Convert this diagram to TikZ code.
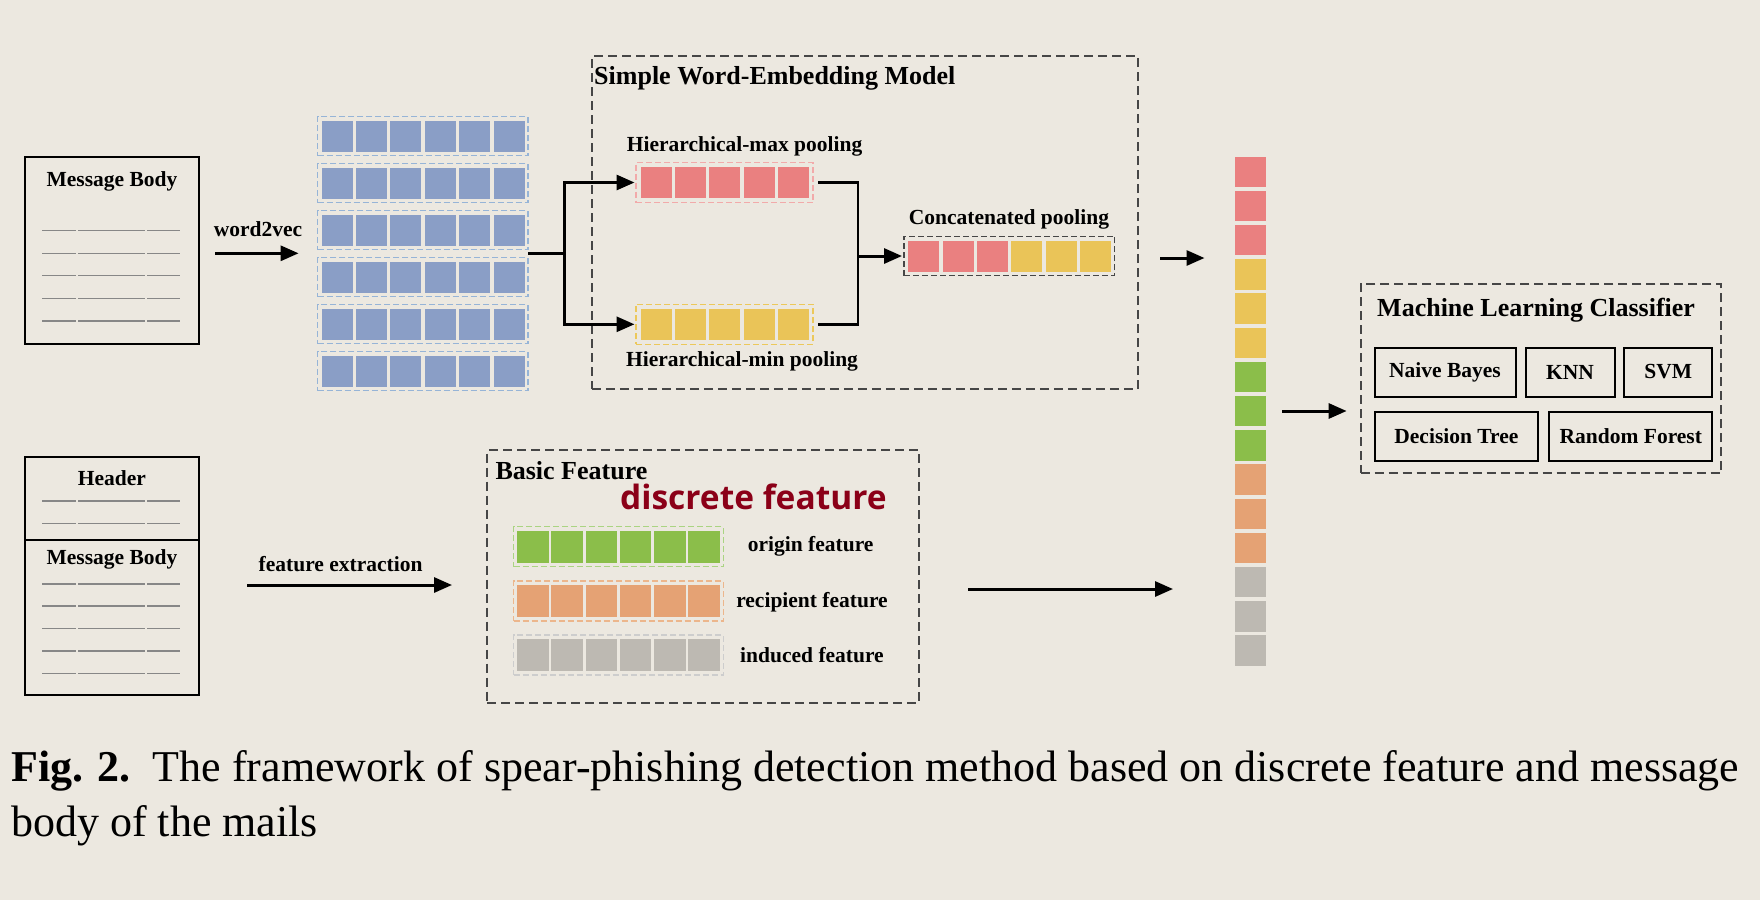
\documentclass[tikz,border=0pt]{standalone}
\usepackage{fontspec}
\setmainfont{Liberation Serif}
\newfontfamily\dfont{Open Sans}
\usetikzlibrary{arrows.meta}
\definecolor{bg}{RGB}{236,232,224}
\definecolor{dashgray}{RGB}{70,70,70}
\definecolor{linegray}{RGB}{135,135,135}
\definecolor{blueSq}{RGB}{138,158,198}
\definecolor{blueFr}{RGB}{150,180,215}
\definecolor{redSq}{RGB}{234,128,128}
\definecolor{redFr}{RGB}{242,170,170}
\definecolor{yelSq}{RGB}{234,196,88}
\definecolor{yelFr}{RGB}{236,200,90}
\definecolor{grnSq}{RGB}{139,190,74}
\definecolor{grnFr}{RGB}{170,212,130}
\definecolor{orgSq}{RGB}{229,162,116}
\definecolor{orgFr}{RGB}{236,182,140}
\definecolor{graySq}{RGB}{189,185,178}
\definecolor{grayFr}{RGB}{205,205,205}
\definecolor{discRed}{RGB}{139,0,24}
\tikzset{
  docbox/.style={draw=black, line width=2.5pt, inner sep=0pt, outer sep=0pt},
  dbox/.style={draw=dashgray, line width=2pt, dash pattern=on 9pt off 5pt, inner sep=0pt, outer sep=0pt},
  rowframe/.style={line width=1.2pt, dash pattern=on 6pt off 3pt, inner sep=0pt, outer sep=0pt},
  sq/.style={minimum width=31pt, minimum height=31pt, inner sep=0pt, outer sep=0pt},
  lbl/.style={font=\fontsize{21.5}{24}\selectfont\bfseries, inner sep=0pt},
  ttl/.style={font=\fontsize{26}{30}\selectfont\bfseries, inner sep=0pt, anchor=base west},
  arr/.style={line width=3pt, -{Triangle[length=18pt,width=15pt]}},
  conn/.style={line width=2.5pt},
  tline/.style={draw=linegray, line width=1.5pt},
  clf/.style={draw=black, line width=2pt, minimum height=49pt, inner sep=0pt, outer sep=0pt, lbl},
  invis/.style={inner sep=0pt, outer sep=0pt}
}
\newcommand{\doclines}[1]{%
  \draw[tline] (42,#1) -- (76,#1);
  \draw[tline] (78,#1) -- (145,#1);
  \draw[tline] (147,#1) -- (180,#1);}
\begin{document}
\begin{tikzpicture}[x=1pt,y=-1pt]
\path[fill=bg] (0,0) rectangle (1760,900);
\useasboundingbox (0,0) rectangle (1760,900);

% ---------- top message body ----------
\node[docbox, minimum width=174pt, minimum height=187pt] (msgA) at (112,250.5) {};
\node[lbl] (msgAt) at (112,181) {Message Body};
\foreach \yy in {230.7,253.3,275.7,298.3,321} {\doclines{\yy}}

% ---------- embedding grid ----------
\node[invis, minimum width=210.4pt, minimum height=287pt] (emb) at (422.8,259.5) {};
\foreach \i in {0,...,5} {
  \node[rowframe, draw=blueFr, minimum width=210.4pt, minimum height=39pt] (er\i) at (422.8,136.2+47*\i) {};
  \foreach \j in {0,...,5} {
    \node[sq, fill=blueSq] (e\i\j) at (337+34.45*\j,136.2+47*\i) {};
  }
}
\node[lbl] (w2v) at (258,229) {word2vec};
\coordinate (w2vs) at (199,253.3);
\draw[arr, shorten <=16pt, shorten >=19pt] (w2vs) -- (emb.west |- w2vs);

% ---------- SWEM ----------
\node[dbox, minimum width=545.7pt, minimum height=333.3pt] (swem) at (864.65,222.65) {};
\node[ttl] (swemt) at (594,84) {Simple Word-Embedding Model};

\node[rowframe, draw=redFr, minimum width=177pt, minimum height=40pt] (maxrow) at (724.5,182.5) {};
\node[rowframe, draw=yelFr, minimum width=177pt, minimum height=40pt] (minrow) at (724.5,324.3) {};
\foreach \j in {0,...,4} {
  \node[sq, fill=redSq] (mx\j) at (656.3+34.3*\j,182.5) {};
  \node[sq, fill=yelSq] (mn\j) at (656.3+34.3*\j,324.3) {};
}
\node[lbl] (maxt) at (744.6,146.7) {Hierarchical-max pooling};
\node[lbl] (mint) at (742,361.7) {Hierarchical-min pooling};

\coordinate (split) at (564.5,253.3);
\draw[conn] (emb.east |- split) -- (split);
\draw[arr, shorten >=1.5pt] (split) |- (maxrow.west);
\draw[arr, shorten >=1.5pt] (split) |- (minrow.west);

\node[rowframe, draw=dashgray, minimum width=210.6pt, minimum height=39.7pt] (concat) at (1009.3,256) {};
\foreach \j/\c in {0/redSq,1/redSq,2/redSq,3/yelSq,4/yelSq,5/yelSq} {
  \node[sq, fill=\c] (cc\j) at (923.8+34.3*\j,256) {};
}
\node[lbl] (catt) at (1009,219.3) {Concatenated pooling};

\coordinate (jn) at (858,256);
\draw[conn] ([xshift=5pt]maxrow.east) -| (jn) |- ([xshift=5pt]minrow.east);
\draw[arr, shorten >=2pt] (jn) -- (concat.west);

% ---------- vector column ----------
\node[invis, minimum width=31pt, minimum height=509.3pt] (vec) at (1250.5,411.15) {};
\foreach \i/\c in {0/redSq,1/redSq,2/redSq,3/yelSq,4/yelSq,5/yelSq,6/grnSq,7/grnSq,8/grnSq,9/orgSq,10/orgSq,11/orgSq,12/graySq,13/graySq,14/graySq} {
  \node[minimum width=31pt, minimum height=30.5pt, inner sep=0pt, outer sep=0pt, fill=\c] (v\i) at (1250.5,171.75+34.2*\i) {};
}
\coordinate (a1) at (1160,258);
\draw[arr, shorten >=30.5pt] (a1) -- (vec.west |- a1);

% ---------- classifier ----------
\node[dbox, minimum width=360.7pt, minimum height=189.3pt] (ml) at (1540.95,378.65) {};
\node[ttl] (mlt) at (1377,316.3) {Machine Learning Classifier};
\node[clf, minimum width=141pt] (nb) at (1445,372) {Naive Bayes};
\node[clf, minimum width=89pt] (knn) at (1570,372) {KNN};
\node[clf, minimum width=87.8pt] (svm) at (1668.3,372) {SVM};
\node[clf, minimum width=163.7pt] (dt) at (1456.4,436.5) {Decision Tree};
\node[clf, minimum width=163pt] (rf) at (1630.8,436.5) {Random Forest};
\coordinate (a3) at (1282,411);
\draw[arr, shorten >=14pt] (a3) -- (ml.west |- a3);

% ---------- header + message body ----------
\node[docbox, minimum width=174pt, minimum height=83pt] (hdr) at (112,498.7) {};
\node[docbox, minimum width=174pt, minimum height=155pt] (msgB) at (112,617.5) {};
\node[lbl] (hdrt) at (112,478.3) {Header};
\node[lbl] (msgBt) at (112,559) {Message Body};
\foreach \yy in {501,523.3,584,606,628.3,651,673.3} {\doclines{\yy}}

\node[lbl] (fet) at (340.6,564) {feature extraction};
\coordinate (a4) at (247,585);

% ---------- basic feature ----------
\node[dbox, minimum width=431.6pt, minimum height=253.3pt] (basic) at (702.8,576.65) {};
\node[ttl] (basict) at (495.3,479) {Basic Feature};
\node[text=discRed, inner sep=0pt, anchor=base, font=\fontsize{33.5}{36}\dfont\bfseries] (disc) at (753.4,509.3) {discrete feature};
\draw[arr, shorten >=35pt] (a4) -- (basic.west |- a4);

\foreach \r/\yy/\c/\f in {g/546.7/grnSq/grnFr, o/600.9/orgSq/orgFr, y/655/graySq/grayFr} {
  \node[rowframe, draw=\f, minimum width=209.8pt, minimum height=40pt] (fr\r) at (618.5,\yy) {};
  \foreach \j in {0,...,5} {
    \node[minimum width=31.5pt, minimum height=32pt, inner sep=0pt, outer sep=0pt, fill=\c] (f\r\j) at (533+34.2*\j,\yy) {};
  }
}
\node[lbl] (orgt) at (810.7,546.7) {origin feature};
\node[lbl] (rect) at (812,602.7) {recipient feature};
\node[lbl] (indt) at (812,655) {induced feature};

\coordinate (a2) at (968,589);
\draw[arr, shorten >=62pt] (a2) -- (vec.west |- a2);

% ---------- caption ----------
\node[anchor=base west, inner sep=0pt, font=\fontsize{44}{53}\selectfont] (cap1) at (11,781.7) {\textbf{Fig. 2.}\hspace{22pt}The framework of spear-phishing detection method based on discrete feature and message};
\node[anchor=base west, inner sep=0pt, font=\fontsize{44}{53}\selectfont] (cap2) at (11,836.7) {body of the mails};
\end{tikzpicture}
\end{document}
